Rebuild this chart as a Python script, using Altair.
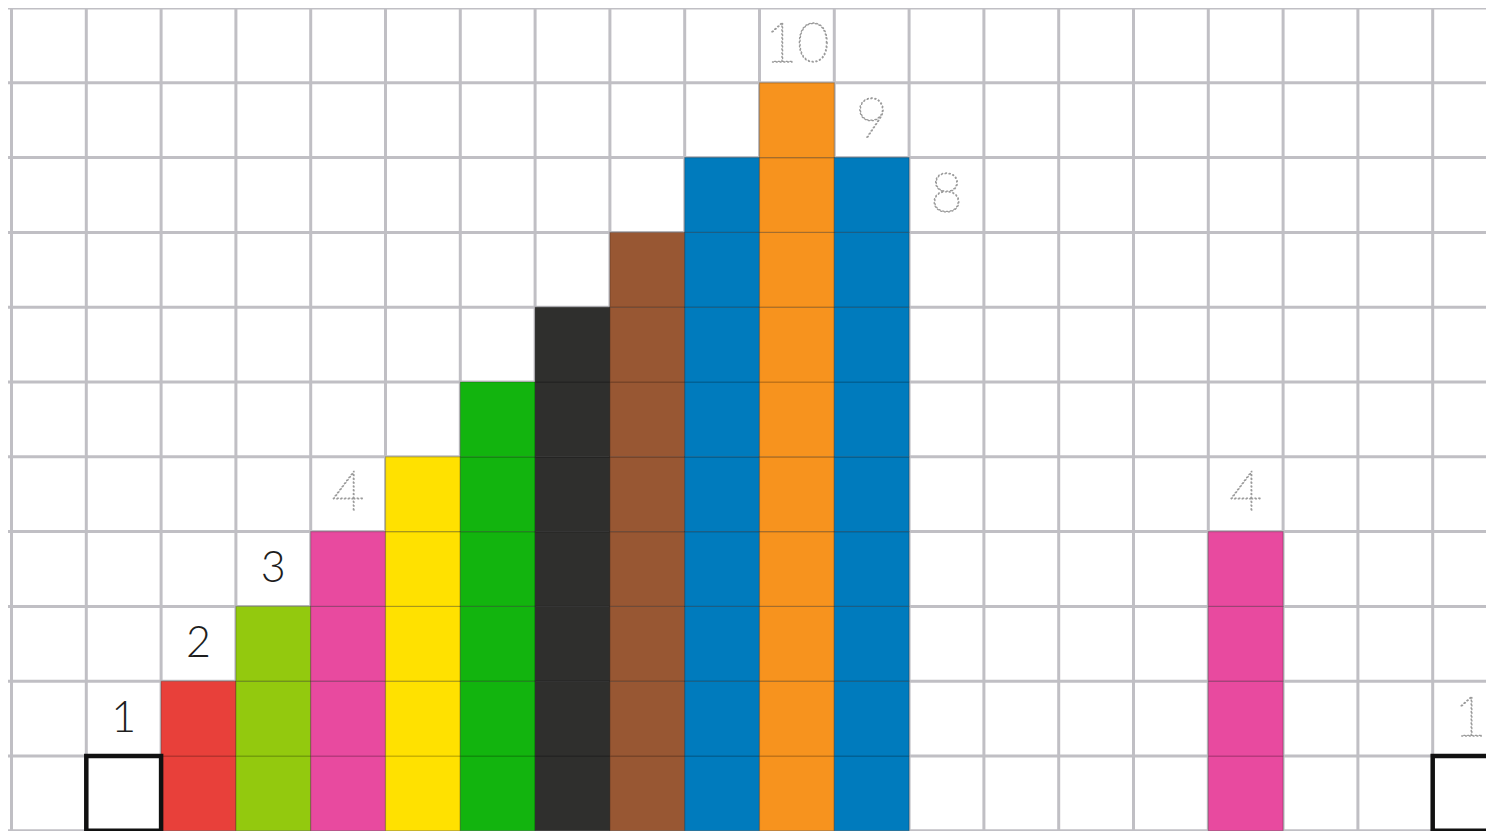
import altair as alt
import pandas as pd

# ---- data ----
bar_columns = [1, 2, 3, 4, 5, 6, 7, 8, 9, 10, 11, 16, 19]
bar_values = [1, 2, 3, 4, 5, 6, 7, 8, 9, 10, 9, 4, 1]
bar_kinds = ["empty", "red", "lime", "pink", "yellow", "green", "black",
             "brown", "blue", "orange", "blue", "pink", "empty"]

label_columns = [1, 2, 3, 4, 10, 11, 12, 16, 19]
label_values = [1, 2, 3, 4, 10, 9, 8, 4, 1]
label_styles = ["solid", "solid", "solid", "dotted", "dotted", "dotted",
                "dotted", "dotted", "dotted"]

grid_columns = list(range(0, 21))
grid_rows = list(range(0, 12))

# colour palette (style)
kind_domain = ["red", "lime", "pink", "yellow", "green", "black", "brown", "blue", "orange"]
kind_range = ["#e8403a", "#93c90e", "#e84a9f", "#ffe100", "#12b40e", "#2f2f2d",
              "#985733", "#007bbd", "#f7931e"]

# ---- tables ----
cells = []
for c, v, k in zip(bar_columns, bar_values, bar_kinds):
    if k == "empty":
        continue
    for r in range(v):
        cells.append({"x": c, "x2": c + 1, "y": r, "y2": r + 1, "kind": k})
cells = pd.DataFrame(cells)

boxes = pd.DataFrame([
    {"x": c, "x2": c + 1, "y": 0, "y2": v}
    for c, v, k in zip(bar_columns, bar_values, bar_kinds) if k == "empty"
])

labels = pd.DataFrame({
    "x": [c + 0.5 for c in label_columns],
    "y": [v + 0.5 for v in label_values],
    "text": [str(v) for v in label_values],
    "style": label_styles,
})

vlines = pd.DataFrame({"x": grid_columns})
hlines = pd.DataFrame({"y": grid_rows})

UNIT = 74.8
PAD_LEFT = 3.5
W = 1474.5
H = 823
XMAX = W / UNIT
YTOP = 11
YMIN = YTOP - H / UNIT
xscale = alt.Scale(domain=[0, XMAX], nice=False, zero=False)
yscale = alt.Scale(domain=[YMIN, YTOP], nice=False, zero=False)
GRID = "#c0bfc4"

vgrid = alt.Chart(vlines).mark_rule(color=GRID, strokeWidth=3).encode(
    x=alt.X("x:Q", scale=xscale, axis=None),
    y=alt.value(0),
    y2=alt.value(H),
)
hgrid = alt.Chart(hlines).mark_rule(color=GRID, strokeWidth=3).encode(
    y=alt.Y("y:Q", scale=yscale, axis=None),
    x=alt.value(-PAD_LEFT),
    x2=alt.value(W),
)

cell_layer = alt.Chart(cells).mark_rect(
    stroke="#000000", strokeOpacity=0.22, strokeWidth=1.2
).encode(
    x=alt.X("x:Q", scale=xscale, axis=None),
    x2="x2:Q",
    y=alt.Y("y:Q", scale=yscale, axis=None),
    y2="y2:Q",
    color=alt.Color("kind:N", scale=alt.Scale(domain=kind_domain, range=kind_range), legend=None),
)

box_layer = alt.Chart(boxes).mark_rect(
    fill="#ffffff", stroke="#111111", strokeWidth=4.5
).encode(
    x=alt.X("x:Q", scale=xscale, axis=None),
    x2="x2:Q",
    y=alt.Y("y:Q", scale=yscale, axis=None),
    y2="y2:Q",
)

solid_layer = alt.Chart(labels).transform_filter(
    alt.datum.style == "solid"
).mark_text(
    font="Lato", fontWeight=300, fontSize=43, color="#1e1e1e",
    align="center", baseline="middle"
).encode(
    x=alt.X("x:Q", scale=xscale, axis=None),
    y=alt.Y("y:Q", scale=yscale, axis=None),
    text="text:N",
)

dotted_layer = alt.Chart(labels).transform_filter(
    alt.datum.style == "dotted"
).mark_text(
    font="Lato", fontWeight=100, fontSize=56, fillOpacity=0,
    stroke="#9a9a9a", strokeWidth=1.3, strokeDash=[1.0, 2.8], strokeCap="round",
    align="center", baseline="middle"
).encode(
    x=alt.X("x:Q", scale=xscale, axis=None),
    y=alt.Y("y:Q", scale=yscale, axis=None),
    text="text:N",
)

chart = alt.layer(vgrid, hgrid, cell_layer, box_layer, solid_layer, dotted_layer).properties(
    width=W, height=H,
    autosize=alt.AutoSizeParams(type="none"),
    padding={"left": PAD_LEFT, "top": 0, "right": 0, "bottom": 0},
    background="#ffffff",
).configure_view(stroke=None, clip=False)

chart.save("out.html", embed_options={"renderer": "svg", "actions": False})
